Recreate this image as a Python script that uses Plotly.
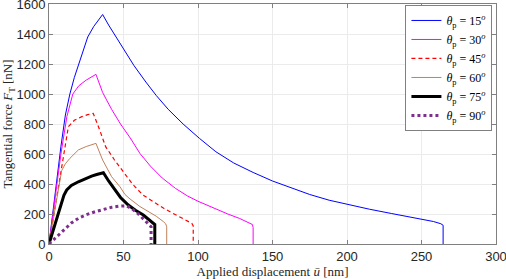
import plotly.graph_objects as go

# ---- data ----
labels = ["15", "30", "45", "60", "75", "90"]

x15 = [0, 4, 8, 11, 14, 17, 20, 23, 26, 30, 33, 36, 40, 45, 50, 57, 65, 72, 80, 90, 101, 112, 124, 137, 150, 162, 175, 188, 202, 215, 230, 245, 258, 263, 264.5, 264.5]
y15 = [0, 330, 650, 860, 1000, 1110, 1200, 1295, 1380, 1450, 1490, 1530, 1460, 1380, 1305, 1190, 1080, 990, 898, 800, 704, 615, 540, 477, 420, 375, 330, 292, 260, 232, 203, 174, 150, 135, 125, 0]

x30 = [0, 4, 8, 12, 16, 20, 25, 31.5, 36, 42, 48, 55, 61, 68, 76, 85, 93, 100, 110, 120, 128, 134, 136.5, 137, 137]
y30 = [0, 300, 600, 850, 1000, 1055, 1093, 1131, 1010, 898, 800, 700, 604, 520, 440, 370, 320, 285, 240, 200, 170, 145, 130, 110, 0]

x45 = [0, 5, 10, 13, 17, 22, 26, 29.7, 34, 38, 44, 50, 56, 63, 70, 77, 84, 90, 94, 95.8, 96.8, 96.8]
y45 = [0, 300, 610, 782, 825, 849, 862, 871, 760, 649, 560, 482, 400, 327, 280, 238, 200, 171, 152, 138, 120, 0]

x60 = [0, 4, 8.5, 11, 14, 19.7, 25, 31.5, 36, 42, 47.6, 51, 54.4, 61, 67.8, 72, 76.7, 78.3, 79, 79]
y60 = [0, 230, 489, 535, 571, 627, 650, 671, 560, 449, 382, 330, 300, 250, 210, 185, 150, 135, 115, 0]

x75 = [0, 2.9, 7.4, 10, 11.9, 15, 19.7, 24, 28.6, 32, 36.5, 40, 44.3, 48, 53.2, 58, 63.3, 67, 70, 71, 71]
y75 = [0, 93, 249, 325, 360, 390, 415, 435, 453, 463, 475, 420, 360, 310, 260, 225, 193, 165, 138, 130, 0]

x90 = [0, 4, 7, 10.7, 15, 19.7, 25, 30.9, 36, 42.1, 47, 52, 56, 60, 64, 67, 68.5, 68.5]
y90 = [0, 38, 70, 104, 140, 171, 195, 215, 230, 245, 252, 255, 232, 200, 160, 130, 115, 0]

xs = [x15, x30, x45, x60, x75, x90]
ys = [y15, y30, y45, y60, y75, y90]

colors = ["#0000FF", "#FF00FF", "#FF0000", "#C0805A", "#000000", "#7E2F8E"]
widths = [1, 1, 1.2, 1, 3, 3]
dashes = ["solid", "solid", "4px,3px", "solid", "solid", "dot"]

serif = "Liberation Serif, Times New Roman, serif"
sans = "Liberation Sans, Arial, sans-serif"

fig = go.Figure()
for x, y, lab, c, w, d in zip(xs, ys, labels, colors, widths, dashes):
    fig.add_trace(go.Scatter(
        x=x, y=y, mode="lines",
        line=dict(color=c, width=w, dash=d),
        name="<i>θ</i><sub>p</sub> = " + lab + "<sup><i>o</i></sup>",
    ))

axis_common = dict(
    showline=True, mirror="ticks", linecolor="#808080", linewidth=1,
    ticks="inside", ticklen=4, tickcolor="#808080",
    showgrid=True, gridcolor="#EBEBEB", gridwidth=1,
    zeroline=False, ticklabeloverflow="allow",
    tickfont=dict(family=sans, size=13, color="#262626"),
)

fig.update_xaxes(range=[0, 300], tickvals=[0, 50, 100, 150, 200, 250, 300],
                 title=dict(text="Applied displacement <i>ū</i> [nm]",
                            font=dict(family=serif, size=13, color="#262626"), standoff=3),
                 **axis_common)
fig.update_yaxes(range=[0, 1600], tickvals=[0, 200, 400, 600, 800, 1000, 1200, 1400, 1600],
                 title=dict(text="Tangential force <i>F</i><sub>T</sub> [nN]",
                            font=dict(family=serif, size=13, color="#262626"), standoff=4),
                 **axis_common)

fig.update_layout(
    width=506, height=279,
    margin=dict(l=49, r=10, t=4, b=35, autoexpand=False),
    plot_bgcolor="white", paper_bgcolor="white",
    legend=dict(
        x=0.992, y=0.996, xanchor="right", yanchor="top",
        bgcolor="white", bordercolor="#808080", borderwidth=1,
        font=dict(family=serif, size=12, color="#000000"),
        itemwidth=30, tracegroupgap=0,
    ),
    showlegend=True,
)

fig.write_html("out.html", config={"displayModeBar": False},
               post_script="document.body.style.margin='0';document.body.style.overflow='hidden';")
